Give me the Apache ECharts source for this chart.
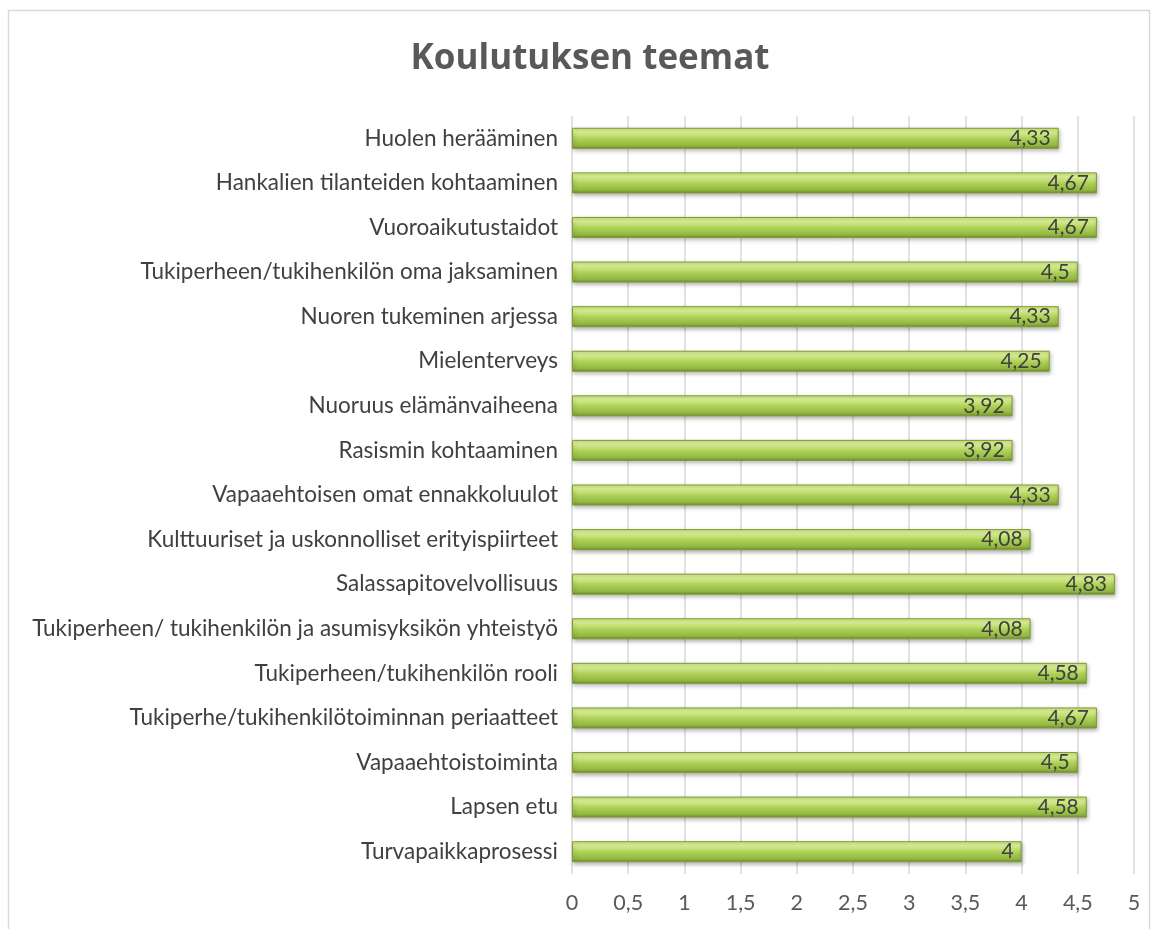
<!DOCTYPE html>
<html><head><meta charset="utf-8">
<script src="https://cdn.jsdelivr.net/npm/echarts@6/dist/echarts.min.js"></script>
<style>html,body{margin:0;padding:0;background:#fff}#c{width:1160px;height:929px}</style>
</head><body><div id="c"></div>
<script>
const categories = [
  "Huolen herääminen",
  "Hankalien tilanteiden kohtaaminen",
  "Vuoroaikutustaidot",
  "Tukiperheen/tukihenkilön oma jaksaminen",
  "Nuoren tukeminen arjessa",
  "Mielenterveys",
  "Nuoruus elämänvaiheena",
  "Rasismin kohtaaminen",
  "Vapaaehtoisen omat ennakkoluulot",
  "Kulttuuriset ja uskonnolliset erityispiirteet",
  "Salassapitovelvollisuus",
  "Tukiperheen/ tukihenkilön ja asumisyksikön yhteistyö",
  "Tukiperheen/tukihenkilön rooli",
  "Tukiperhe/tukihenkilötoiminnan periaatteet",
  "Vapaaehtoistoiminta",
  "Lapsen etu",
  "Turvapaikkaprosessi"
];
const values = [4.33, 4.67, 4.67, 4.5, 4.33, 4.25, 3.92, 3.92, 4.33, 4.08, 4.83, 4.08, 4.58, 4.67, 4.5, 4.58, 4];
const titleText = "Koulutuksen teemat";

const fmt = v => String(v).replace('.', ',');
const chart = echarts.init(document.getElementById('c'));
chart.setOption({
  animation: false,
  backgroundColor: '#fff',
  graphic: [{
    type: 'rect', silent: true,
    shape: {x: 8.5, y: 10.5, width: 1141, height: 940},
    style: {fill: 'none', stroke: '#d9d9d9', lineWidth: 1.5}
  }],
  title: {
    text: titleText, left: 585, top: 37, textAlign: 'center',
    textStyle: {fontFamily: 'Open Sans', fontWeight: 'bold', fontSize: 35, color: '#595959'}
  },
  grid: {left: 572, right: 26, top: 116, bottom: 55, containLabel: false},
  xAxis: {
    type: 'value', min: 0, max: 5, interval: 0.5,
    axisLine: {show: false}, axisTick: {show: false},
    splitLine: {lineStyle: {color: '#d9d9d9', width: 1.5}},
    axisLabel: {formatter: fmt, color: '#595959', fontSize: 21.5, fontFamily: 'Lato', margin: 18}
  },
  yAxis: {
    type: 'category', data: categories, inverse: true,
    axisLine: {show: false}, axisTick: {show: false},
    axisLabel: {color: '#404040', fontSize: 22.5, fontFamily: 'Lato', margin: 14}
  },
  series: [{
    type: 'bar', data: values, barWidth: 21,
    itemStyle: {
      color: new echarts.graphic.LinearGradient(0, 0, 0, 1, [
        {offset: 0, color: '#c8e27c'},
        {offset: 0.2, color: '#dcf198'},
        {offset: 0.5, color: '#afd35a'},
        {offset: 0.85, color: '#92b640'},
        {offset: 1, color: '#6e8a2c'}
      ]),
      borderColor: '#7f9c35', borderWidth: 1,
      shadowColor: 'rgba(0,0,0,0.3)', shadowBlur: 4, shadowOffsetY: 2, shadowOffsetX: 1
    },
    label: {
      show: true, position: 'insideRight', formatter: p => fmt(p.value),
      color: '#404040', fontSize: 21, fontFamily: 'Lato', distance: 8
    }
  }]
});
</script></body></html>
